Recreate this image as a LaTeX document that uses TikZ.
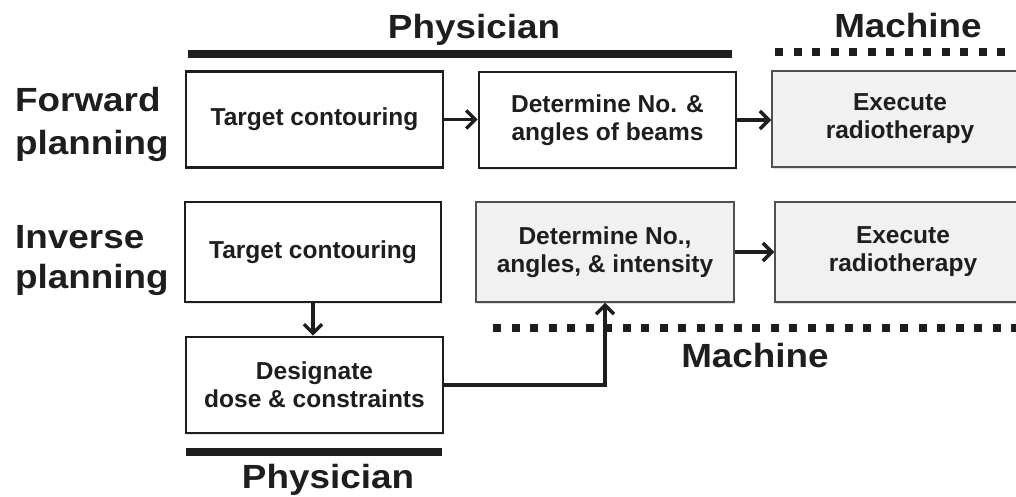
\documentclass[tikz,border=0pt]{standalone}
\usepackage{fontspec}
\setmainfont{Liberation Sans}
\newfontfamily\labfont{Liberation Sans}[FakeStretch=1.1]
\usetikzlibrary{arrows.meta,shadows}
\definecolor{ink}{HTML}{1E1E1E}
\definecolor{boxgray}{HTML}{F1F1F1}
\definecolor{edgegray}{HTML}{505050}
\begin{document}
\begin{tikzpicture}[x=1pt,y=-1pt,
  boxtext/.style={align=center, font=\fontsize{24.5}{28}\selectfont\bfseries, text=ink, inner sep=0pt},
  humanbox/.style={boxtext, draw=ink, line width=2.8pt, fill=white, minimum width=257pt, minimum height=96pt,
    drop shadow={shadow xshift=1pt, shadow yshift=-2pt, opacity=0.18}},
  machbox/.style={boxtext, draw=edgegray, line width=1.5pt, fill=boxgray, minimum width=257pt, minimum height=96pt,
    drop shadow={shadow xshift=1pt, shadow yshift=-2pt, opacity=0.25}},
  biglab/.style={font=\labfont\bfseries\fontsize{33.5}{43}\selectfont, text=ink, inner sep=0pt},
  solidbar/.style={draw=ink, line width=8pt},
  dotbar/.style={draw=ink, line width=8pt, dash pattern=on 8pt off 10.5pt},
  arr/.style={draw=ink, line width=3.4pt, -{Straight Barb[length=9pt,width=18pt]}}
]
\useasboundingbox (0,0) rectangle (1016,497);
\clip (0,0) rectangle (1016,497);

% role bars
\coordinate (tbarL) at (188,54);
\coordinate (tbarR) at (732,54);
\draw[solidbar] (tbarL) -- (tbarR);
\coordinate (tdotL) at (775,52);
\coordinate (tdotR) at (1030,52);
\draw[dotbar] (tdotL) -- (tdotR);
\coordinate (bdotL) at (493,327.5);
\coordinate (bdotR) at (1030,327.5);
\draw[dotbar] (bdotL) -- (bdotR);
\coordinate (bbarL) at (186,452);
\coordinate (bbarR) at (442,452);
\draw[solidbar] (bbarL) -- (bbarR);

% role labels
\node[biglab, anchor=base] (phys1) at (474,39) {Physician};
\node[biglab, anchor=base] (mach1) at (908,38) {Machine};
\node[biglab, anchor=base] (mach2) at (755,367) {Machine};
\node[biglab, anchor=base] (phys2) at (328,488) {Physician};

% row labels
\node[biglab, anchor=base west] (fwd) at (15,112) {\vtop{\hbox{Forward}\hbox{planning}}};
\node[biglab, anchor=base west] (inv) at (15,248) {\baselineskip=40pt\vtop{\hbox{Inverse}\hbox{planning}}};

% forward planning
\node[humanbox] (fp1) at (314.5,119.5) {Target contouring};
\node[humanbox] (fp2) at (607.5,120) {Determine No. \&\\angles of beams};
\node[machbox, minimum width=256pt] (fp3) at (900,119) {Execute\\radiotherapy};

% inverse planning
\node[humanbox, minimum width=256pt, minimum height=100pt] (ip1) at (313,252) {Target contouring};
\node[machbox, minimum width=258pt, minimum height=100pt] (ip2) at (605,252) {Determine No.,\\angles, \& intensity};
\node[machbox, minimum width=256pt, minimum height=100pt] (ip3) at (903,252) {Execute\\radiotherapy};
\node[humanbox] (ip4) at (314.5,385) {Designate\\dose \& constraints};

% connectors
\draw[arr] (fp1.east) -- (fp1.east -| fp2.west);
\draw[arr] (fp2.east) -- (fp2.east -| fp3.west);
\draw[arr] (ip2.east) -- (ip2.east -| ip3.west);
\draw[arr] (ip1.south) -- (ip1.south |- ip4.north);
\draw[arr] (ip4.east) -| (ip2.south);
\end{tikzpicture}
\end{document}
